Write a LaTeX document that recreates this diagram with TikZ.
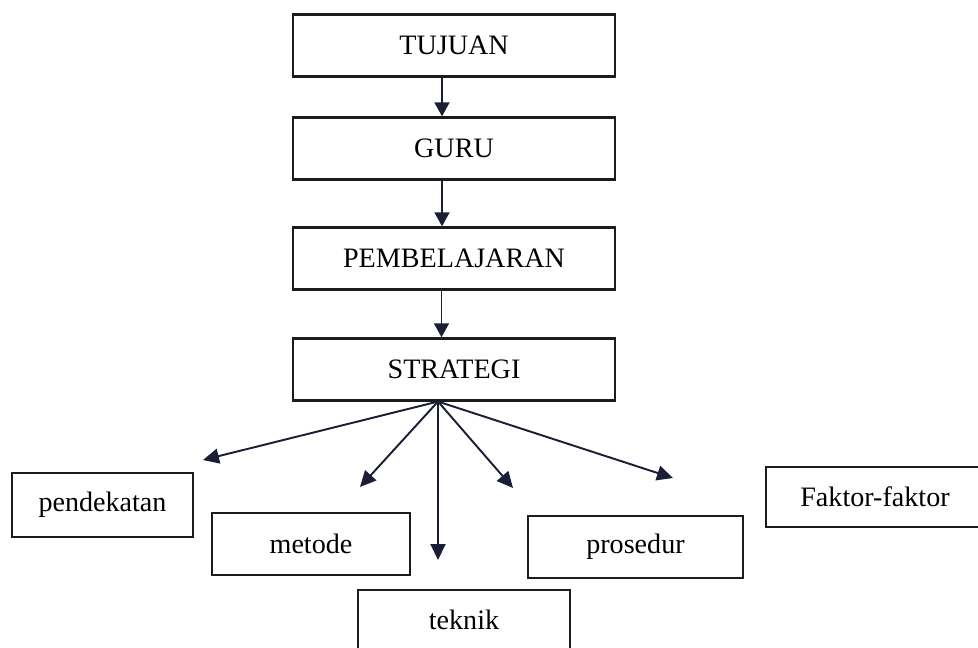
\documentclass[tikz,border=0pt]{standalone}
\usepackage{fontspec}
\setmainfont{Liberation Serif}
\usepackage{tikz}
\usetikzlibrary{arrows.meta, positioning}
\usepackage{xcolor}
\definecolor{boxInk}   {HTML}{1C1C1C}
\definecolor{arrowInk} {HTML}{1A1E36}
\tikzset{
  stepbox/.style = {rectangle, draw=boxInk, line width=1.3pt, fill=white,
                    inner sep=0pt, align=center,
                    font=\fontsize{16}{19}\selectfont},
  mainbox/.style = {stepbox, minimum width=6.44cm, minimum height=1.24cm},
  arrow/.style   = {-{Triangle[length=0.28cm, width=0.3cm]}, line width=1pt,
                    color=arrowInk},
  fanarrow/.style= {-{Triangle[length=0.32cm, width=0.3cm]}, line width=1.1pt,
                    color=arrowInk},
}

\begin{document}
\begin{tikzpicture}[x=0.02cm, y=-0.02cm]

  \useasboundingbox (0,0) rectangle (978,647);
  \clip (0,0) rectangle (978,647);

  % ---- Main column ----
  \node[mainbox] (tujuan) at (454,45.5) {TUJUAN};
  \node[mainbox, below=0.774cm of tujuan]  (guru)     {GURU};
  \node[mainbox, below=0.914cm of guru]    (pemb)     {PEMBELAJARAN};
  \node[mainbox, below=0.934cm of pemb]    (strategi) {STRATEGI};

  % ---- Lower row ----
  \node[stepbox, minimum width=3.62cm, minimum height=1.28cm] (pend)    at (102.5,505) {pendekatan};
  \node[stepbox, minimum width=3.96cm, minimum height=1.24cm] (metode)  at (311,544)   {metode};
  \node[stepbox, minimum width=4.24cm, minimum height=1.2cm]  (teknik)  at (464,620)   {teknik};
  \node[stepbox, minimum width=4.3cm,  minimum height=1.24cm] (prosedur) at (635.5,547) {prosedur};
  \node[stepbox, minimum width=4.36cm, minimum height=1.2cm]  (faktor)  at (875,497)   {Faktor-faktor};

  % ---- Column arrows ----
  \draw[arrow] ([xshift=-0.24cm]tujuan.south) -- ([xshift=-0.24cm]guru.north);
  \draw[arrow] ([xshift=-0.24cm]guru.south)   -- ([xshift=-0.24cm]pemb.north);
  \draw[arrow] ([xshift=-0.25cm]pemb.south)   -- ([xshift=-0.25cm]strategi.north);

  % ---- Fan out of STRATEGI ----
  \coordinate (hub)     at ([xshift=-0.32cm]strategi.south);
  \coordinate (pendTip) at (203,460);
  \coordinate (metTip)  at (360,487);
  \coordinate (tekTip)  at (hub |- 0,560);
  \coordinate (proTip)  at (513,488);
  \coordinate (fakTip)  at (673,478);

  \draw[fanarrow] (hub) -- (pendTip);
  \draw[fanarrow] (hub) -- (metTip);
  \draw[fanarrow] (hub) -- (tekTip);
  \draw[fanarrow] (hub) -- (proTip);
  \draw[fanarrow] (hub) -- (fakTip);

\end{tikzpicture}
\end{document}
